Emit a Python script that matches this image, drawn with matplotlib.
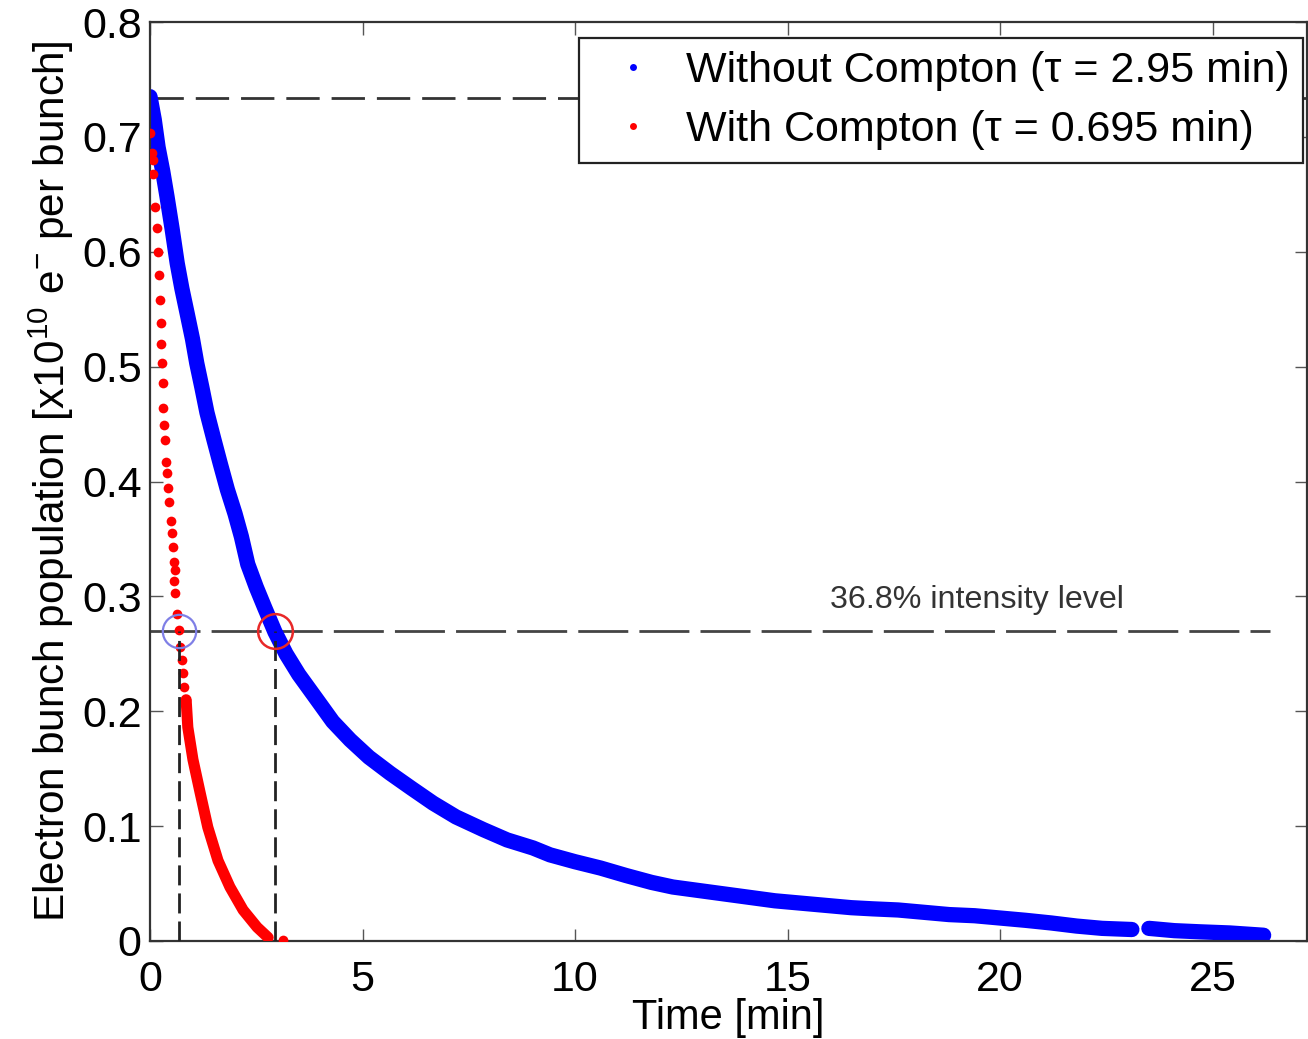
import matplotlib
matplotlib.use("Agg")
import matplotlib.pyplot as plt
from matplotlib.lines import Line2D

plt.rcParams['font.family'] = ['Liberation Sans', 'DejaVu Sans']
plt.rcParams['mathtext.fontset'] = 'custom'
plt.rcParams['mathtext.rm'] = 'Liberation Sans'
plt.rcParams['mathtext.it'] = 'Liberation Sans'
plt.rcParams['lines.scale_dashes'] = False

# ---- data ----
blue_t1 = [0, 0.1, 0.19, 0.3, 0.4, 0.52, 0.64, 0.75, 0.87, 1.0, 1.1, 1.22, 1.34, 1.5,
           1.65, 1.82, 2.0, 2.15, 2.3, 2.5, 2.7, 2.94, 3.2, 3.5, 3.93, 4.3, 4.71, 5.15,
           5.65, 6.15, 6.66, 7.2, 7.84, 8.4, 9.01, 9.41, 10.0, 10.6, 11.2, 11.8, 12.3,
           12.9, 13.5, 14.1, 14.7, 15.3, 15.9, 16.5, 17.0, 17.6, 18.2, 18.8, 19.4, 20.0,
           20.6, 21.2, 21.8, 22.4, 23.1]
blue_n1 = [0.735, 0.715, 0.691, 0.670, 0.648, 0.620, 0.590, 0.568, 0.547, 0.524, 0.503,
           0.482, 0.460, 0.437, 0.416, 0.393, 0.372, 0.352, 0.328, 0.308, 0.290, 0.269,
           0.250, 0.232, 0.210, 0.191, 0.175, 0.160, 0.146, 0.133, 0.120, 0.108, 0.097,
           0.088, 0.081, 0.075, 0.069, 0.0635, 0.057, 0.051, 0.047, 0.044, 0.041, 0.038,
           0.035, 0.033, 0.031, 0.029, 0.028, 0.027, 0.025, 0.023, 0.022, 0.020, 0.018,
           0.0157, 0.013, 0.011, 0.010]
blue_t2 = [23.5, 24.1, 24.7, 25.4, 26.2]
blue_n2 = [0.011, 0.009, 0.008, 0.007, 0.005]

red_dots_t = [0.0, 0.05, 0.07, 0.07, 0.12, 0.16, 0.19, 0.21, 0.24, 0.26, 0.26, 0.28, 0.31,
              0.31, 0.33, 0.35, 0.38, 0.40, 0.42, 0.45, 0.49, 0.52, 0.54, 0.56, 0.57, 0.59,
              0.59, 0.64, 0.68, 0.71, 0.75, 0.78, 0.80, 0.85, 3.13]
red_dots_n = [0.703, 0.686, 0.680, 0.668, 0.639, 0.621, 0.600, 0.580, 0.558, 0.538, 0.520,
              0.503, 0.486, 0.464, 0.449, 0.436, 0.417, 0.407, 0.394, 0.382, 0.366, 0.355,
              0.343, 0.330, 0.313, 0.323, 0.303, 0.285, 0.271, 0.256, 0.245, 0.233, 0.221,
              0.210, 0.001]
red_band_t = [0.85, 0.89, 1.01, 1.18, 1.36, 1.60, 1.88, 2.19, 2.52, 2.78]
red_band_n = [0.210, 0.186, 0.158, 0.129, 0.099, 0.070, 0.047, 0.027, 0.012, 0.003]

n0 = 0.7337
level = 0.270
tau_without = 2.95
tau_with = 0.68

labels = ['Without Compton (\u03c4 = 2.95 min)', 'With Compton (\u03c4 = 0.695 min)']
xticks = [0, 5, 10, 15, 20, 25]
yticks = [0, 0.1, 0.2, 0.3, 0.4, 0.5, 0.6, 0.7, 0.8]
ytick_labels = ['0', '0.1', '0.2', '0.3', '0.4', '0.5', '0.6', '0.7', '0.8']

W, H = 1308, 1039
fig = plt.figure(figsize=(W / 100, H / 100), dpi=100)
ax = fig.add_axes([150 / W, 1 - 941 / H, 1157 / W, 919 / H])

blue = '#0000ff'
red = '#ff0000'

# reference dashed lines
ax.plot([0, 27.3], [n0, n0], color='#333333', lw=2.0, dashes=(24, 8.6), zorder=1)
ax.plot([0, 26.35], [level, level], color='#444444', lw=2.0, dashes=(36, 8), zorder=1)

# data
ax.plot(blue_t1, blue_n1, color=blue, lw=11, solid_capstyle='round',
        solid_joinstyle='round', zorder=2)
ax.plot(blue_t2, blue_n2, color=blue, lw=11, solid_capstyle='round',
        solid_joinstyle='round', zorder=2)
ax.plot(red_band_t, red_band_n, color=red, lw=8, solid_capstyle='round',
        solid_joinstyle='round', zorder=3)
ax.plot(red_dots_t, red_dots_n, 'o', color=red, ms=7, mec='none', zorder=3)

# vertical dashed lines
ax.plot([tau_with, tau_with], [0, level], color='#222222', lw=2.0, dashes=(14.4, 5.8), zorder=4)
ax.plot([tau_without, tau_without], [0, level], color='#222222', lw=2.0, dashes=(14.4, 5.8), zorder=4)

# circles
ax.plot([tau_with], [level], 'o', ms=24, mfc='none', mec='#7f7fe6', mew=1.6, zorder=5)
ax.plot([tau_without], [level], 'o', ms=25, mfc='none', mec='#e82828', mew=1.8, zorder=5)

ax.text(16.0, 0.297, '36.8% intensity level', fontsize=23.2, color='#333333',
        ha='left', va='center')

ax.set_xlim(0, 27.22)
ax.set_ylim(0, 0.8)
ax.set_xticks(xticks)
ax.set_xticklabels([str(v) for v in xticks])
ax.set_yticks(yticks)
ax.set_yticklabels(ytick_labels)
ax.tick_params(direction='in', length=9, width=1.0, color='#555555', labelsize=31,
               top=True, right=True)
ax.tick_params(axis='x', pad=14)
ax.tick_params(axis='y', pad=6)
for s in ax.spines.values():
    s.set_linewidth(1.6)
    s.set_color('#333333')

ax.set_xlabel('Time [min]', fontsize=30, labelpad=-2)
ax.set_ylabel(r'Electron bunch population [x10$^{10}$ e$^{-}$ per bunch]', fontsize=30.5,
              labelpad=4)

handles = [Line2D([], [], ls='none', marker='o', ms=5, color=blue, mec='none'),
           Line2D([], [], ls='none', marker='o', ms=5, color=red, mec='none')]
leg = ax.legend(handles, labels, loc='upper right', bbox_to_anchor=(0.9965, 0.9826),
                fontsize=31, frameon=True, fancybox=False, borderpad=0.3,
                handlelength=1.9, handletextpad=0.3, labelspacing=0.45, borderaxespad=0)
leg.get_frame().set_edgecolor('#222222')
leg.get_frame().set_linewidth(1.6)
leg.get_frame().set_alpha(1)
leg.set_zorder(10)

fig.savefig('out.png', dpi=100)
